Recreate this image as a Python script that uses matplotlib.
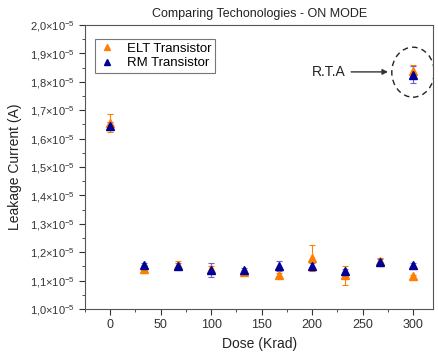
import matplotlib
matplotlib.use('Agg')
import matplotlib.pyplot as plt
from matplotlib.patches import Ellipse
from matplotlib.lines import Line2D
from matplotlib.ticker import MultipleLocator, FuncFormatter

plt.rcParams['font.family'] = ['Liberation Sans', 'DejaVu Sans']
plt.rcParams['mathtext.fontset'] = 'custom'
plt.rcParams['mathtext.rm'] = 'Liberation Sans'
plt.rcParams['mathtext.it'] = 'Liberation Sans:italic'

# Dose points (Krad)
dose = [0, 33, 67, 100, 133, 167, 200, 233, 267, 300]

# Leakage current (x1e-5 A)
elt = [1.655, 1.140, 1.155, 1.140, 1.130, 1.118, 1.180, 1.118, 1.170, 1.115]
elt_err = [0.030, 0.015, 0.015, 0.010, 0.008, 0.010, 0.045, 0.035, 0.010, 0.005]
rm = [1.645, 1.155, 1.152, 1.137, 1.138, 1.152, 1.150, 1.132, 1.165, 1.155]
rm_err = [0.015, 0.008, 0.010, 0.025, 0.008, 0.018, 0.012, 0.010, 0.012, 0.008]

# R.T.A point
rta_dose = [300]
rta_elt = [1.838]
rta_elt_err = [0.020]
rta_rm = [1.825]
rta_rm_err = [0.030]

orange = '#FF8000'
navy = '#000099'
scale = 1e-5

fig = plt.figure(figsize=(4.38, 3.58), dpi=100)
ax = fig.add_axes([0.194, 0.137, 0.795, 0.793])

ax.errorbar(dose + rta_dose, [v * scale for v in elt + rta_elt],
            yerr=[e * scale for e in elt_err + rta_elt_err],
            fmt='^', color=orange, ecolor=orange, ms=6, capsize=2.5,
            elinewidth=0.8, capthick=0.8)
ax.errorbar(dose + rta_dose, [v * scale for v in rm + rta_rm],
            yerr=[e * scale for e in rm_err + rta_rm_err],
            fmt='^', color=navy, ecolor='#6666cc', ms=6, capsize=2.5,
            elinewidth=0.8, capthick=0.8)

ax.add_patch(Ellipse((300, 1.834 * scale), 42, 0.176 * scale, fill=False,
                     ls=(0, (4, 3)), lw=1.0, color='#222222'))
ax.annotate('', xy=(278, 1.835 * scale), xytext=(236, 1.835 * scale),
            arrowprops=dict(arrowstyle='-|>', color='#333333', lw=1.0,
                            mutation_scale=8))
ax.text(233, 1.835 * scale, 'R.T.A', ha='right', va='center', fontsize=10,
        color='#222222')

ax.set_xlim(-25, 320)
ax.set_ylim(1.0 * scale, 2.0 * scale)
ax.xaxis.set_major_locator(MultipleLocator(50))
ax.xaxis.set_minor_locator(MultipleLocator(25))
ax.yaxis.set_major_locator(MultipleLocator(0.1 * scale))
ax.yaxis.set_minor_locator(MultipleLocator(0.05 * scale))
ax.yaxis.set_major_formatter(FuncFormatter(
    lambda v, p: ('%.1f' % (v / scale)).replace('.', ',') + r'$\times10^{-5}$'))
ax.tick_params(which='both', direction='out', colors='#333333')
ax.tick_params(axis='y', labelsize=8)
ax.tick_params(axis='x', labelsize=9)
ax.tick_params(which='major', length=4)
ax.tick_params(which='minor', length=2)
for s in ax.spines.values():
    s.set_color('#555555')

ax.set_title('Comparing Techonologies - ON MODE', fontsize=9, color='#222222')
ax.set_xlabel('Dose (Krad)', fontsize=10, color='#222222')
ax.set_ylabel('Leakage Current (A)', fontsize=10, color='#222222')
ax.yaxis.set_label_coords(-0.18, 0.5)

handles = [Line2D([], [], ls='none', marker='^', color=orange, ms=5),
           Line2D([], [], ls='none', marker='^', color=navy, ms=5)]
leg = ax.legend(handles, ['ELT Transistor', 'RM Transistor'],
                loc='upper left', fontsize=9.5, frameon=True, fancybox=False,
                edgecolor='#555555', handlelength=1.2, handletextpad=0.9,
                borderpad=0.3, labelspacing=0.15,
                bbox_to_anchor=(0.01, 0.975))
leg.get_frame().set_linewidth(0.8)

fig.savefig('out.png', dpi=100)
